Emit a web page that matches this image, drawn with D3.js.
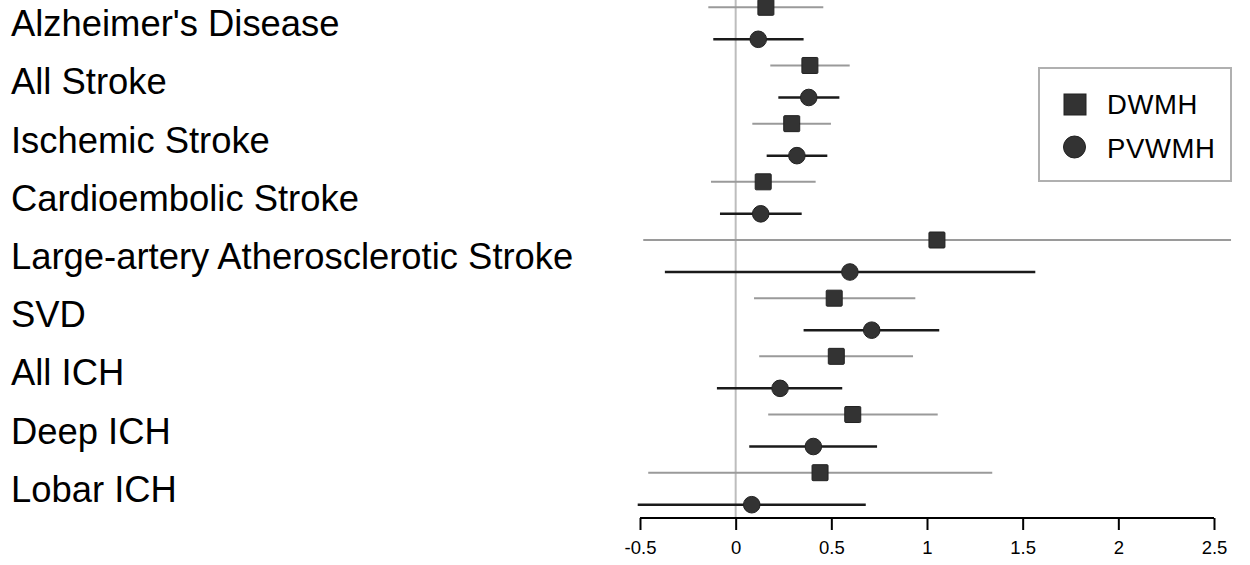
<!DOCTYPE html>
<html>
<head>
<meta charset="utf-8">
<script src="https://cdn.jsdelivr.net/npm/d3@7"></script>
<style>
  html, body { margin: 0; padding: 0; background: #fff; }
  svg { display: block; font-family: "Liberation Sans", Arial, Helvetica, sans-serif; }
</style>
</head>
<body>
<svg id="chart" width="1250" height="565"></svg>
<script>
const categories = ["Alzheimer's Disease", "All Stroke", "Ischemic Stroke", "Cardioembolic Stroke",
  "Large-artery Atherosclerotic Stroke", "SVD", "All ICH", "Deep ICH", "Lobar ICH"];
const dwmhEst = [0.158, 0.388, 0.293, 0.144, 1.052, 0.515, 0.526, 0.612, 0.441];
const dwmhLo  = [-0.143, 0.181, 0.087, -0.129, -0.483, 0.096, 0.123, 0.170, -0.457];
const dwmhHi  = [0.458, 0.596, 0.498, 0.418, 2.589, 0.939, 0.927, 1.056, 1.341];
const pvwmhEst = [0.118, 0.382, 0.320, 0.131, 0.597, 0.711, 0.232, 0.406, 0.084];
const pvwmhLo  = [-0.117, 0.223, 0.162, -0.082, -0.370, 0.355, -0.098, 0.071, -0.512];
const pvwmhHi  = [0.355, 0.542, 0.479, 0.345, 1.566, 1.064, 0.557, 0.739, 0.680];
const xTicks = [-0.5, 0, 0.5, 1, 1.5, 2, 2.5];
const seriesNames = ["DWMH", "PVWMH"];

const svg = d3.select("#chart");
const x = d3.scaleLinear().domain([-0.5, 2.5]).range([640, 1214]);
const yRow = d3.scaleLinear().domain([0, categories.length - 1]).range([7.3, 472.7]);
const pairGap = 32;
const axisY = 518;

// zero reference line
svg.append("line")
  .attr("x1", x(0)).attr("x2", x(0))
  .attr("y1", 0).attr("y2", axisY)
  .attr("stroke", "#bdbdbd").attr("stroke-width", 2);

// category labels
svg.append("g").selectAll("text").data(categories).join("text")
  .attr("x", 11)
  .attr("y", (d, i) => yRow(i) + pairGap / 2 + 13)
  .attr("font-size", 36.4)
  .attr("fill", "#000")
  .text(d => d);

const rows = categories.map((c, i) => ({
  i, dEst: dwmhEst[i], dLo: dwmhLo[i], dHi: dwmhHi[i],
  pEst: pvwmhEst[i], pLo: pvwmhLo[i], pHi: pvwmhHi[i]
}));

// DWMH CIs (gray)
svg.append("g").selectAll("line").data(rows).join("line")
  .attr("x1", d => x(d.dLo)).attr("x2", d => x(d.dHi))
  .attr("y1", d => yRow(d.i)).attr("y2", d => yRow(d.i))
  .attr("stroke", "#9a9a9a").attr("stroke-width", 2);

// PVWMH CIs (black)
svg.append("g").selectAll("line").data(rows).join("line")
  .attr("x1", d => x(d.pLo)).attr("x2", d => x(d.pHi))
  .attr("y1", d => yRow(d.i) + pairGap).attr("y2", d => yRow(d.i) + pairGap)
  .attr("stroke", "#1a1a1a").attr("stroke-width", 2.5);

const sq = 16;
svg.append("g").selectAll("rect").data(rows).join("rect")
  .attr("x", d => x(d.dEst) - sq / 2).attr("y", d => yRow(d.i) - sq / 2)
  .attr("width", sq).attr("height", sq).attr("rx", 1)
  .attr("fill", "#333").attr("stroke", "#222").attr("stroke-width", 1);

svg.append("g").selectAll("circle").data(rows).join("circle")
  .attr("cx", d => x(d.pEst)).attr("cy", d => yRow(d.i) + pairGap)
  .attr("r", 8.3)
  .attr("fill", "#333").attr("stroke", "#222").attr("stroke-width", 1);

// x axis
const axis = d3.axisBottom(x).tickValues(xTicks).tickSize(12).tickPadding(11)
  .tickFormat(d => String(d));
const gAxis = svg.append("g").attr("transform", `translate(0,${axisY})`).call(axis);
gAxis.attr("font-size", null).attr("font-family", null);
gAxis.select(".domain").attr("stroke", "#000").attr("stroke-width", 2).attr("d", `M${x(-0.5)},0H${x(2.5)}`);
gAxis.selectAll(".tick line").attr("stroke", "#000").attr("stroke-width", 2);
gAxis.selectAll(".tick text").attr("font-size", 18.5).attr("fill", "#000")
  .attr("font-family", "'Liberation Sans', Arial, sans-serif");

// legend
const lg = svg.append("g");
lg.append("rect").attr("x", 1039).attr("y", 68).attr("width", 192).attr("height", 113)
  .attr("fill", "#fff").attr("stroke", "#b0b0b0").attr("stroke-width", 2);
lg.append("rect").attr("x", 1064).attr("y", 94).attr("width", 22).attr("height", 21)
  .attr("fill", "#333").attr("stroke", "#222");
lg.append("circle").attr("cx", 1074.5).attr("cy", 147).attr("r", 11)
  .attr("fill", "#333").attr("stroke", "#222");
lg.selectAll("text").data(seriesNames).join("text")
  .attr("x", 1107).attr("y", (d, i) => 114 + i * 44)
  .attr("font-size", 27.5).attr("letter-spacing", 0.6).attr("fill", "#000")
  .text(d => d);
</script>
</body>
</html>
